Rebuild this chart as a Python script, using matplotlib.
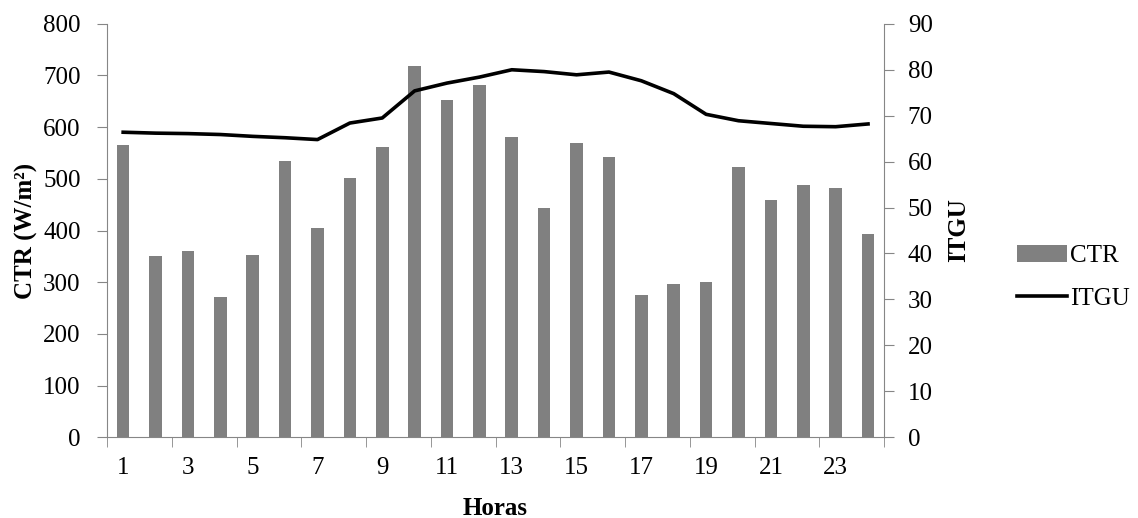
import matplotlib
matplotlib.use('agg')
import matplotlib.pyplot as plt
import numpy as np

horas = list(range(1, 25))
ctr = [566, 351, 360, 271, 352, 535, 404, 501, 561, 719, 653, 682,
       581, 444, 569, 543, 276, 296, 300, 522, 459, 488, 483, 393]
itgu = [66.4, 66.2, 66.1, 65.9, 65.5, 65.2, 64.8, 68.4, 69.5, 75.4, 77.1, 78.4,
        80.0, 79.6, 78.9, 79.5, 77.6, 74.8, 70.3, 68.9, 68.3, 67.7, 67.6, 68.2]
xlabels = [str(h) for h in horas[::2]]

plt.rcParams['font.family'] = 'Liberation Serif'
plt.rcParams['font.size'] = 18

axis_gray = '#868686'

fig = plt.figure(figsize=(11.38, 5.18), dpi=100)
ax = fig.add_axes([0.094, 0.156, 0.683, 0.798])
ax2 = ax.twinx()

bars = ax.bar(horas, ctr, width=0.39, color='#808080', label='CTR', zorder=2)
line, = ax2.plot(horas, itgu, color='black', linewidth=2.6, label='ITGU', zorder=3)

ax.set_xlim(0.5, 24.5)
ax.set_ylim(0, 800)
ax.set_yticks(np.arange(0, 801, 100))
ax2.set_ylim(0, 90)
ax2.set_yticks(np.arange(0, 91, 10))

ax.set_xticks(horas[::2])
ax.set_xticklabels(xlabels)
ax.set_xticks(np.arange(0.5, 25, 2), minor=True)
ax.tick_params(axis='x', which='major', length=0, pad=14)
ax.tick_params(axis='x', which='minor', length=7, color=axis_gray, direction='out')
ax.tick_params(axis='y', length=7, color=axis_gray, pad=12)
ax2.tick_params(axis='y', length=7, color=axis_gray, pad=10)

for a in (ax, ax2):
    a.spines['top'].set_visible(False)
    for s in ('left', 'right', 'bottom'):
        a.spines[s].set_color(axis_gray)
ax.spines['right'].set_visible(False)
ax2.spines['left'].set_visible(False)
ax2.spines['bottom'].set_visible(False)

ax.set_xlabel('Horas', fontweight='bold', labelpad=13)
ax.set_ylabel('CTR (W/m²)', fontweight='bold', labelpad=4)
ax2.set_ylabel('ITGU', fontweight='bold', labelpad=10)

fig.legend([bars, line], ['CTR', 'ITGU'], loc='center left',
           bbox_to_anchor=(0.874, 0.465), frameon=False,
           handlelength=2.0, handletextpad=0.1, labelspacing=0.8)

fig.savefig('out.png', dpi=100)
